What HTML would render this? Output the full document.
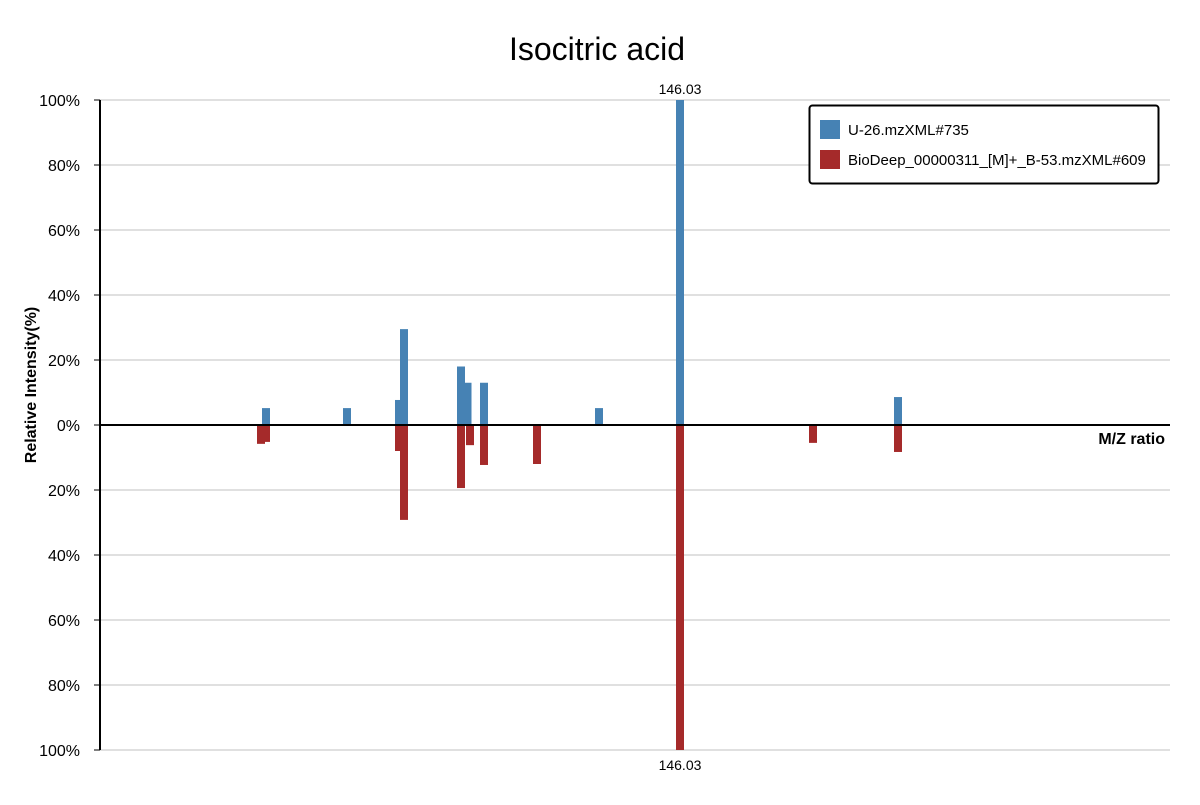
<!DOCTYPE html>
<html><head><meta charset="utf-8"><style>
body{margin:0;background:#fff;font-family:"Liberation Sans",sans-serif}
</style></head><body>
<svg id="chart" width="1200" height="800" xmlns="http://www.w3.org/2000/svg" font-family="Liberation Sans, sans-serif">
<text x="597" y="60" text-anchor="middle" font-size="32">Isocitric acid</text>
<g id="grid"></g>
<g id="bars"></g>
<g id="axes"></g>
<g>
<rect x="809.5" y="105.5" width="349" height="78" rx="3" fill="#fff" stroke="#000" stroke-width="2"/>
<rect x="820" y="120" width="20" height="19" fill="#4682b4"/>
<text x="848" y="135" font-size="15">U-26.mzXML#735</text>
<rect x="820" y="150" width="20" height="19" fill="#a52a2a"/>
<text x="848" y="165" font-size="15">BioDeep_00000311_[M]+_B-53.mzXML#609</text>
</g>
</svg>
<script>
const topMz = [104.63, 112.73, 117.93, 118.43, 124.13, 124.78, 126.43, 137.93, 146.03, 167.83];
const topInt = [5.2, 5.2, 7.7, 29.5, 18, 13, 13, 5.2, 100, 8.6];
const botMz = [104.13, 104.63, 117.93, 118.43, 124.13, 125.03, 126.43, 131.73, 146.03, 159.33, 167.83];
const botInt = [5.8, 5.2, 8, 29.2, 19.4, 6.2, 12.3, 12, 100, 5.5, 8.3];
const yTicks = [100, 80, 60, 40, 20, 0, -20, -40, -60, -80, -100];
const xDomain = [88.03, 195.03];
const NS = "http://www.w3.org/2000/svg";
const X0 = 100, X1 = 1170, Y0 = 425, YS = 3.25;
const xs = m => X0 + (m - xDomain[0]) / (xDomain[1] - xDomain[0]) * (X1 - X0);
const ys = v => Y0 - v * YS;
function mk(tag, attrs, parent, txt){const e=document.createElementNS(NS,tag);for(const k in attrs)e.setAttribute(k,attrs[k]);if(txt!==undefined)e.textContent=txt;document.getElementById(parent).appendChild(e);return e;}
yTicks.forEach(t=>{
  const g=mk('line',{x1:X0,x2:X1,y1:ys(t),y2:ys(t),stroke:'#e0e0e0','stroke-width':2},'grid');
  
  
  const tk=mk('line',{x1:X0-6,x2:X0,y1:ys(t),y2:ys(t),stroke:'#000','stroke-width':1},'axes');
  
  
  const lb=mk('text',{x:X0-20,y:ys(t)+6,'text-anchor':'end','font-size':16},'axes',Math.abs(t)+'%');
  
  
});
let maxI=0;
topMz.forEach((m,i)=>{
  const r=mk('rect',{x:xs(m)-4,y:ys(topInt[i]),width:8,height:topInt[i]*YS,fill:'#4682b4'},'bars');
  
  
  if(topInt[i]>topInt[maxI])maxI=i;
});
let maxJ=0;
botMz.forEach((m,i)=>{
  const r=mk('rect',{x:xs(m)-4,y:Y0,width:8,height:botInt[i]*YS,fill:'#a52a2a'},'bars');
  
  
  if(botInt[i]>botInt[maxJ])maxJ=i;
});
const t1=mk('text',{x:xs(topMz[maxI]),y:ys(topInt[maxI])-6,'text-anchor':'middle','font-size':14},'axes',topMz[maxI].toFixed(2));


const t2=mk('text',{x:xs(botMz[maxJ]),y:ys(-botInt[maxJ])+20,'text-anchor':'middle','font-size':14},'axes',botMz[maxJ].toFixed(2));


const ya=mk('line',{x1:X0,x2:X0,y1:ys(100),y2:ys(-100),stroke:'#000','stroke-width':2},'axes');


const xa=mk('line',{x1:X0,x2:X1,y1:Y0,y2:Y0,stroke:'#000','stroke-width':2},'axes');


const xt=mk('text',{x:1165,y:444,'text-anchor':'end','font-size':16,'font-weight':'bold'},'axes','M/Z ratio');


const yt=mk('text',{x:0,y:0,'text-anchor':'middle','font-size':16,'font-weight':'bold',transform:'translate(36,385) rotate(-90)'},'axes','Relative Intensity(%)');


</script>
</body></html>
